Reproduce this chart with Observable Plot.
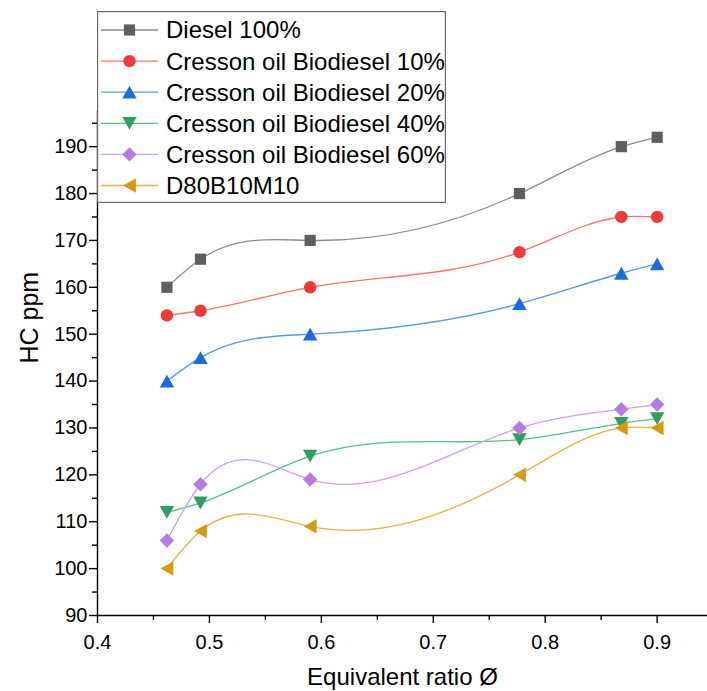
<!DOCTYPE html>
<html>
<head>
<meta charset="utf-8">
<script src="https://cdn.jsdelivr.net/npm/d3@7"></script>
<script src="https://cdn.jsdelivr.net/npm/@observablehq/plot@0.6"></script>
<style>
  html, body { margin: 0; padding: 0; background: #fff; }
  #wrap { position: relative; width: 707px; height: 691px; font-family: "Liberation Sans", Arial, sans-serif; }
  #legend { position: absolute; left: 97px; top: 11px; }
</style>
</head>
<body>
<div id="wrap"><div id="chart"></div><div id="legend"></div></div>
<script>
// ---- data ----
const phi = [0.462, 0.492, 0.59, 0.777, 0.868, 0.9];
const seriesNames = [
  "Diesel 100%",
  "Cresson oil Biodiesel 10%",
  "Cresson oil Biodiesel 20%",
  "Cresson oil Biodiesel 40%",
  "Cresson oil Biodiesel 60%",
  "D80B10M10"
];
const diesel100 = [160, 166, 170, 180, 190, 192];
const bio10 = [154, 155, 160, 167.5, 175, 175];
const bio20 = [140, 145, 150, 156.5, 163, 165];
const bio40 = [112, 114, 124, 127.5, 131, 132];
const bio60 = [106, 118, 119, 130, 134, 135];
const d80b10m10 = [100, 108, 109, 120, 130, 130];
const seriesValues = [diesel100, bio10, bio20, bio40, bio60, d80b10m10];
const yTicks = [90, 100, 110, 120, 130, 140, 150, 160, 170, 180, 190];
const yMinor = [95, 105, 115, 125, 135, 145, 155, 165, 175, 185, 195];
const xTicks = [0.4, 0.5, 0.6, 0.7, 0.8, 0.9];
const xMinor = [0.45, 0.55, 0.65, 0.75, 0.85];

// ---- styles ----
const markColors = ["#5e5e5e", "#f03a3a", "#1a6bdc", "#2f9e5e", "#b57be0", "#d39b0e"];
const lineColors = ["#8c8c8c", "#ff7070", "#5a98e8", "#5bbf86", "#cda0f0", "#e3b445"];

// Custom d3-style curve: natural cubic spline with x as the independent variable
function curveSplineX(context) {
  let xs, ys;
  return {
    areaStart() {}, areaEnd() {},
    lineStart() { xs = []; ys = []; },
    point(x, y) { xs.push(+x); ys.push(+y); },
    lineEnd() {
      const n = xs.length;
      if (n === 0) return;
      context.moveTo(xs[0], ys[0]);
      if (n === 1) return;
      if (n === 2) { context.lineTo(xs[1], ys[1]); return; }
      const h = [], d = [];
      for (let i = 0; i < n - 1; i++) { h[i] = xs[i + 1] - xs[i]; d[i] = (ys[i + 1] - ys[i]) / h[i]; }
      // solve for second derivatives M (natural: M0 = Mn-1 = 0)
      const M = new Array(n).fill(0);
      const a = [], b = [], c = [], r = [];
      for (let i = 1; i < n - 1; i++) {
        a[i] = h[i - 1]; b[i] = 2 * (h[i - 1] + h[i]); c[i] = h[i]; r[i] = 6 * (d[i] - d[i - 1]);
      }
      const cp = [], rp = [];
      for (let i = 1; i < n - 1; i++) {
        const den = b[i] - (i > 1 ? a[i] * cp[i - 1] : 0);
        cp[i] = c[i] / den;
        rp[i] = (r[i] - (i > 1 ? a[i] * rp[i - 1] : 0)) / den;
      }
      for (let i = n - 2; i >= 1; i--) M[i] = rp[i] - (i < n - 2 ? cp[i] * M[i + 1] : 0);
      const m = [];
      for (let i = 0; i < n - 1; i++) m[i] = d[i] - h[i] * (2 * M[i] + M[i + 1]) / 6;
      m[n - 1] = d[n - 2] + h[n - 2] * (M[n - 2] + 2 * M[n - 1]) / 6;
      for (let i = 0; i < n - 1; i++) {
        const t = h[i] / 3;
        context.bezierCurveTo(xs[i] + t, ys[i] + m[i] * t, xs[i + 1] - t, ys[i + 1] - m[i + 1] * t, xs[i + 1], ys[i + 1]);
      }
    }
  };
}

function poly(pts) {
  return {
    draw(ctx, size) {
      const s = Math.sqrt(size / Math.PI) / 7;
      ctx.moveTo(pts[0][0] * s, pts[0][1] * s);
      for (let i = 1; i < pts.length; i++) ctx.lineTo(pts[i][0] * s, pts[i][1] * s);
      ctx.closePath();
    }
  };
}
const symSquare = poly([[-5.6, -5.6], [5.6, -5.6], [5.6, 5.6], [-5.6, 5.6]]);
const symCircle = {
  draw(ctx, size) {
    const r = Math.sqrt(size / Math.PI) / 7 * 6.2;
    ctx.moveTo(r, 0);
    ctx.arc(0, 0, r, 0, 2 * Math.PI);
    ctx.closePath();
  }
};
const symUp = poly([[0, -6.4], [7.2, 6.4], [-7.2, 6.4]]);
const symDown = poly([[0, 6.4], [7.2, -6.4], [-7.2, -6.4]]);
const symDiamond = poly([[0, -7.2], [7.2, 0], [0, 7.2], [-7.2, 0]]);
const symLeft = poly([[-6.4, 0], [6.4, -7.2], [6.4, 7.2]]);
const symbols = [symSquare, symCircle, symUp, symDown, symDiamond, symLeft];

const rows = seriesNames.map((name, i) => phi.map((p, j) => ({ series: name, idx: i, phi: p, hc: seriesValues[i][j] })));

const font = '"Liberation Sans", Arial, sans-serif';
const marks = [];
rows.forEach((data, i) => {
  marks.push(Plot.line(data, { x: "phi", y: "hc", stroke: lineColors[i], strokeWidth: 1.3, curve: curveSplineX }));
});
rows.forEach((data, i) => {
  marks.push(Plot.dot(data, { x: "phi", y: "hc", symbol: symbols[i], r: 7, fill: markColors[i], stroke: "none" }));
});

const chart = Plot.plot({
  width: 707,
  height: 691,
  marginLeft: 97,
  marginRight: 0,
  marginTop: 111,
  marginBottom: 76,
  style: { fontFamily: font, color: "#000", background: "#fff", overflow: "visible" },
  x: { domain: [0.4, 0.945] },
  y: { domain: [90, 197.5] },
  marks: [
    ...marks,
    Plot.axisX({ ticks: xTicks, tickSize: 8, tickPadding: 11, tickFormat: d3.format(".1f"), fontSize: 20, strokeWidth: 1.4, label: null }),
    Plot.axisX({ ticks: xMinor, tickSize: 5, text: null, strokeWidth: 1.4, label: null }),
    Plot.axisY({ ticks: yTicks, tickSize: 8, tickPadding: 2, tickFormat: d3.format("d"), fontSize: 20, strokeWidth: 1.4, label: null }),
    Plot.axisY({ ticks: yMinor, tickSize: 5, text: null, strokeWidth: 1.4, label: null }),
    Plot.ruleX([0.4], { stroke: "#000", strokeWidth: 1.4 }),
    Plot.ruleY([90], { stroke: "#000", strokeWidth: 1.4 }),
    Plot.text(["HC ppm"], { frameAnchor: "left", dx: -68, rotate: -90, fontSize: 25, fill: "#000", lineAnchor: "middle" }),
    Plot.text(["Equivalent ratio Ø"], { frameAnchor: "bottom", dy: 62, fontSize: 24, fill: "#000", lineAnchor: "middle" })
  ]
});
document.getElementById("chart").appendChild(chart);

// ---- legend (inside the plot area, top-left) ----
const lw = 349, lh = 192, rowStep = 31.1, row0 = 19;
const lsvg = d3.select("#legend").append("svg").attr("width", lw).attr("height", lh)
  .style("font-family", font).style("overflow", "visible");
lsvg.append("rect").attr("x", 0.6).attr("y", 0.6).attr("width", lw - 1.2).attr("height", lh - 1.2)
  .attr("fill", "#fff").attr("stroke", "#6a6a6a").attr("stroke-width", 1.2);
seriesNames.forEach((name, i) => {
  const y = row0 + i * rowStep;
  lsvg.append("line").attr("x1", 4).attr("x2", 61).attr("y1", y).attr("y2", y)
    .attr("stroke", lineColors[i]).attr("stroke-width", 1.3);
  lsvg.append("path").attr("d", d3.symbol(symbols[i], 49 * Math.PI)()).attr("transform", `translate(32.5,${y})`)
    .attr("fill", markColors[i]);
  lsvg.append("text").attr("x", 69).attr("y", y).attr("dy", "0.35em").attr("font-size", 24).attr("fill", "#000").text(name);
});
</script>
</body>
</html>
